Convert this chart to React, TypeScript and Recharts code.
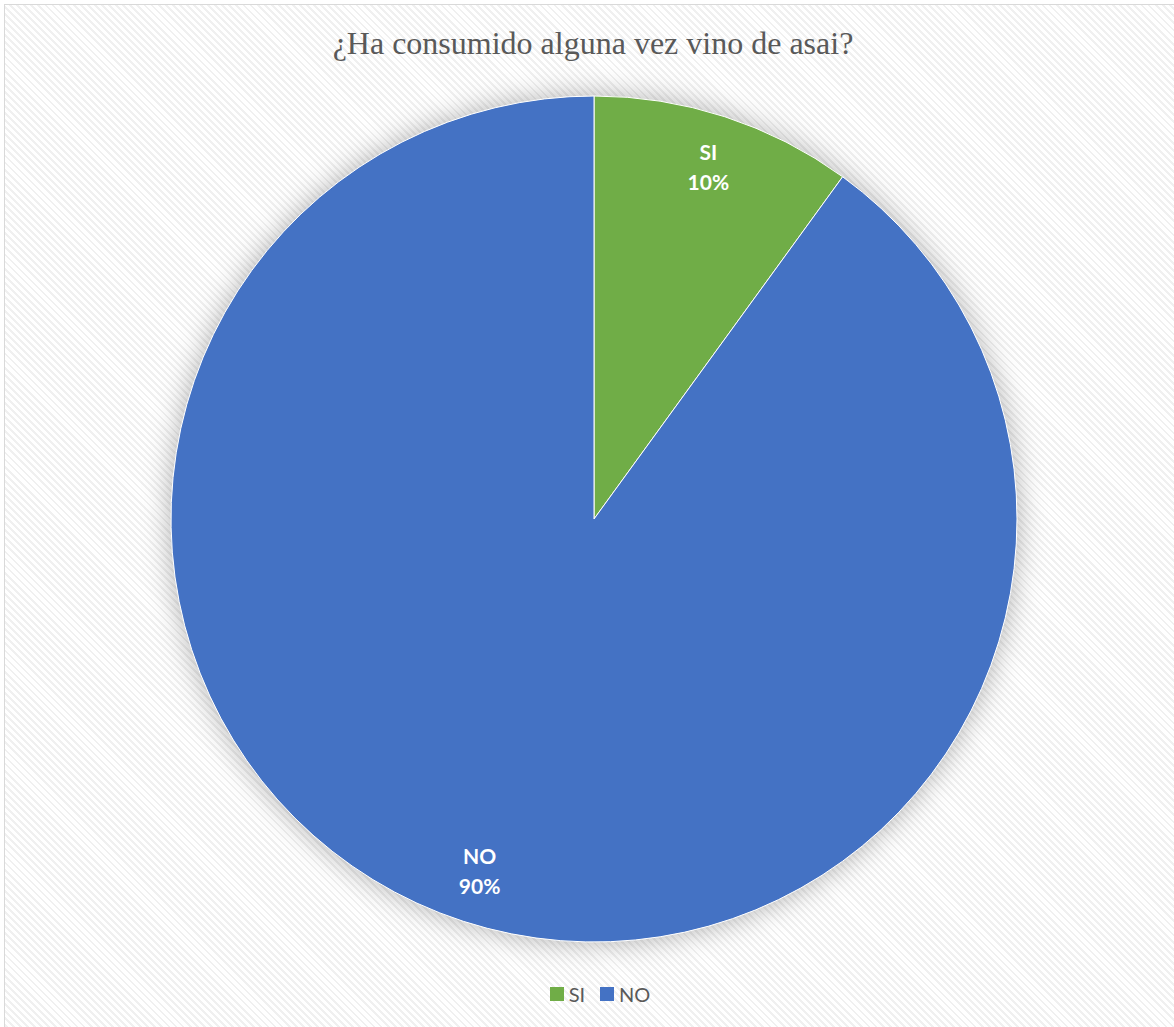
import React from 'react'
import { PieChart, Pie, Cell, Legend } from 'recharts'

// Encuesta: ¿Ha consumido alguna vez vino de asai?
const CATEGORIES = ['SI', 'NO']
const VALUES = [10, 90]
const COLORS = ['#70AD47', '#4472C4']

const TITLE = '¿Ha consumido alguna vez vino de asai?'

const data = CATEGORIES.map((name, i) => ({ name, value: VALUES[i] }))

const RADIAN = Math.PI / 180
const LABEL_FONT = "Lato, 'Open Sans', sans-serif"

/** etiqueta interior: nombre + porcentaje, en blanco y negrita */
function renderLabel(props: any) {
  const { cx, cy, midAngle, outerRadius, name, percent } = props
  const r = outerRadius * 0.875
  const x = cx + r * Math.cos(-midAngle * RADIAN)
  const y = cy + r * Math.sin(-midAngle * RADIAN)
  return (
    <text
      x={x}
      y={y}
      fill="#ffffff"
      textAnchor="middle"
      fontFamily={LABEL_FONT}
      fontWeight={700}
      fontSize={21}
    >
      <tspan x={x} dy={-7}>{name}</tspan>
      <tspan x={x} dy={30}>{`${Math.round(percent * 100)}%`}</tspan>
    </text>
  )
}

/** leyenda en el mismo orden que los datos */
function renderLegend() {
  return (
    <div style={{ display: 'flex', justifyContent: 'center', gap: 15, fontFamily: LABEL_FONT, fontSize: 20, color: '#595959' }}>
      {CATEGORIES.map((c, i) => (
        <span key={c} style={{ display: 'inline-flex', alignItems: 'center' }}>
          <span style={{ display: 'inline-block', width: 14, height: 14, background: COLORS[i], marginRight: 5 }} />
          {c}
        </span>
      ))}
    </div>
  )
}

export default function App() {
  return (
    <div style={{ position: 'absolute', left: 0, top: 0, width: 1174, height: 1027, overflow: 'hidden', background: '#ffffff' }}>
      <style>{`.recharts-pie { filter: drop-shadow(0 0 14px rgba(0,0,0,0.3)); }`}</style>
      <div
        style={{
          position: 'absolute',
          left: 4,
          top: 4,
          width: 1190,
          height: 1040,
          border: '1px solid #d9d9d9',
          background:
            'repeating-linear-gradient(45deg, #ffffff 0px, #ffffff 3px, #f0f0f0 3px, #f0f0f0 5px)',
        }}
      />
      <div
        style={{
          position: 'absolute',
          left: 0,
          top: 25,
          width: 1186,
          textAlign: 'center',
          fontFamily: "'Liberation Serif', 'Times New Roman', serif",
          fontSize: 32,
          color: '#595959',
        }}
      >
        {TITLE}
      </div>
      <div style={{ position: 'absolute', left: 0, top: 0 }}>
        <PieChart width={1174} height={1027} margin={{ top: 0, right: 0, bottom: 0, left: 0 }}>
          <Pie
            data={data}
            dataKey="value"
            nameKey="name"
            cx={594}
            cy={519}
            outerRadius={423}
            startAngle={90}
            endAngle={-270}
            stroke="#ffffff"
            strokeWidth={1}
            label={renderLabel}
            labelLine={false}
            isAnimationActive={false}
          >
            {data.map((d, i) => (
              <Cell key={d.name} fill={COLORS[i]} />
            ))}
          </Pie>
          <Legend
            content={renderLegend}
            wrapperStyle={{ top: 982, left: 0, width: 1200 }}
          />
        </PieChart>
      </div>
    </div>
  )
}
